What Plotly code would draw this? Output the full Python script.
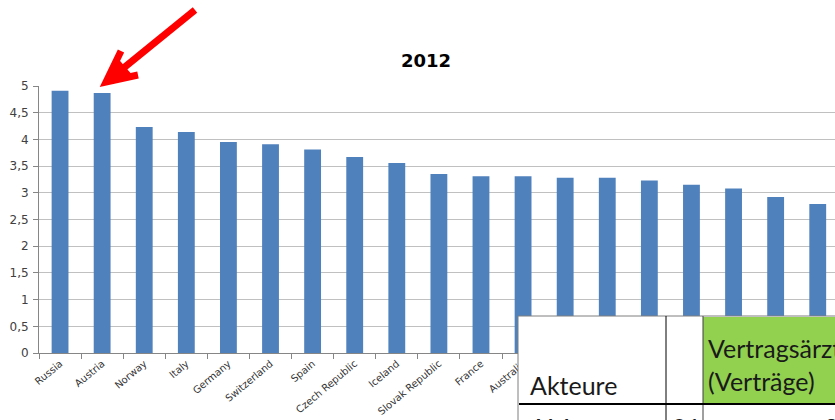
import plotly.graph_objects as go

countries = ["Russia", "Austria", "Norway", "Italy", "Germany", "Switzerland", "Spain",
             "Czech Republic", "Iceland", "Slovak Republic", "France", "Australia",
             "Israel", "Estonia", "Hungary", "Netherlands", "Belgium", "Finland", "Luxembourg"]
values = [4.91, 4.87, 4.23, 4.14, 3.95, 3.91, 3.81, 3.67, 3.56, 3.35, 3.31, 3.31,
          3.28, 3.28, 3.23, 3.15, 3.08, 2.92, 2.79]
y_ticks = [0, 0.5, 1, 1.5, 2, 2.5, 3, 3.5, 4, 4.5, 5]

W, H = 835, 420
L, R, T, B = 39, 0, 86, 67
pw, ph = W - L - R, H - T - B

def px(x):
    return (x - L) / pw

def py(y):
    return (H - B - y) / ph

fig = go.Figure(go.Bar(x=countries, y=values, marker=dict(color="#4f81bd", line=dict(width=0)),
                       width=0.4))

fig.update_layout(
    width=W, height=H, margin=dict(l=L, r=R, t=T, b=B, autoexpand=False),
    plot_bgcolor="white", paper_bgcolor="white",
    separators=",.",
    showlegend=False,
    font=dict(family="DejaVu Sans", color="#404040"),
    title=dict(text="<b>2012</b>", xref="paper", x=px(426), xanchor="center",
               yref="container", y=1 - 61 / H, yanchor="middle",
               font=dict(family="DejaVu Sans", size=18, color="#000000")),
)
fig.update_xaxes(type="category", range=[-0.5, 18.41], showline=True, linecolor="#868686",
                 linewidth=1, ticks="outside", tickson="boundaries", ticklen=5,
                 tickcolor="#868686", tickangle=-40, tickfont=dict(size=10, color="#333333"),
                 showgrid=False, automargin=False)
fig.update_yaxes(range=[0, 5], tickvals=y_ticks, showline=True, linecolor="#868686",
                 linewidth=1, ticks="outside", ticklen=5, tickcolor="#868686",
                 gridcolor="#c0c0c0", gridwidth=1, tickfont=dict(size=12, color="#404040"),
                 ticklabelstandoff=2, zeroline=False, automargin=False)

# red arrow pointing at Austria (shaft + chevron head)
def ppath(points):
    return "M " + " L ".join(f"{px(x):.5f},{py(y):.5f}" for x, y in points)

shapes = [
    dict(type="path", xref="paper", yref="paper", path=ppath([(195, 10), (110, 79)]),
         line=dict(color="#ff0000", width=7), layer="above"),
    dict(type="path", xref="paper", yref="paper", path=ppath([(121, 51), (106, 82), (138, 75)]),
         line=dict(color="#ff0000", width=7), layer="above"),
    dict(type="path", xref="paper", yref="paper",
         path=ppath([(118, 60), (109, 79), (130, 74)]) + " Z",
         fillcolor="#ff0000", line=dict(color="#ff0000", width=2), layer="above"),
]

# overlaid table snippet
shapes += [
    dict(type="rect", xref="paper", yref="paper", x0=px(518), x1=px(845), y0=py(316), y1=py(440),
         fillcolor="white", line=dict(color="#7f7f7f", width=1), layer="above"),
    dict(type="rect", xref="paper", yref="paper", x0=px(703), x1=px(845), y0=py(317), y1=py(404),
         fillcolor="#92d050", line=dict(width=0), layer="above"),
    dict(type="line", xref="paper", yref="paper", x0=px(666), x1=px(666), y0=py(316), y1=py(440),
         line=dict(color="#000000", width=1), layer="above"),
    dict(type="line", xref="paper", yref="paper", x0=px(703), x1=px(703), y0=py(316), y1=py(440),
         line=dict(color="#404040", width=1), layer="above"),
    dict(type="line", xref="paper", yref="paper", x0=px(519), x1=px(845), y0=py(404), y1=py(404),
         line=dict(color="#000000", width=2), layer="above"),
]
fig.update_layout(shapes=shapes)

tfont = dict(family="Lato", size=25, color="#1a1a1a")
for txt, x, y in [("Akteure", 528, 385), ("Vertragsärzte", 706, 348), ("(Verträge)", 706, 381),
                  ("AM", 528, 427), ("01", 670, 427), ("3", 822, 427)]:
    fig.add_annotation(xref="paper", yref="paper", x=px(x), y=py(y), text=txt, showarrow=False,
                       xanchor="left", yanchor="middle", font=tfont)

fig.write_html("out.html", config={"displayModeBar": False},
               post_script="document.body.style.margin='0';")
